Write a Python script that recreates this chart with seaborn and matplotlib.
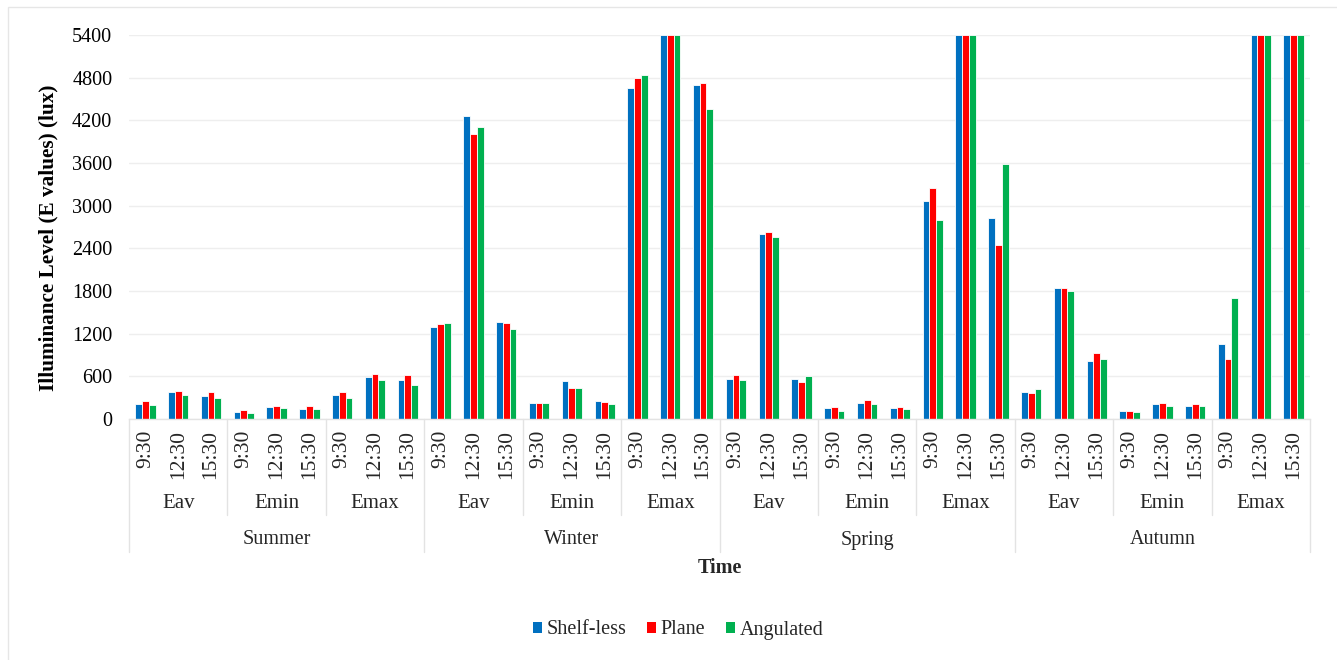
import numpy as np
import pandas as pd
import matplotlib
matplotlib.use("Agg")
import matplotlib.pyplot as plt
import matplotlib.transforms as mtransforms
from matplotlib.patches import Rectangle, Patch
import seaborn as sns

seasons = ["Summer", "Winter", "Spring", "Autumn"]
metrics = ["Eav", "Emin", "Emax"]
times = ["9:30", "12:30", "15:30"]
series = ["Shelf-less", "Plane", "Angulated"]
colors = ["#0070C0", "#FF0000", "#00B050"]

shelf_less = [216, 375, 328, 103, 169, 141, 337, 590, 553,
              1294, 4265, 1364, 230, 534, 253, 4650, 5400, 4690,
              559, 2596, 559, 152, 218, 156, 3070, 5400, 2828,
              384, 1847, 820, 109, 204, 189, 1061, 5400, 5400]
plane = [248, 389, 380, 122, 178, 187, 375, 633, 614,
         1331, 4007, 1354, 230, 441, 239, 4790, 5400, 4730,
         625, 2624, 521, 166, 270, 166, 3254, 5400, 2444,
         369, 1847, 933, 118, 227, 204, 838, 5400, 5400]
angulated = [192, 337, 300, 89, 155, 145, 300, 544, 483,
             1354, 4110, 1261, 230, 441, 206, 4840, 5400, 4359,
             549, 2563, 611, 118, 208, 147, 2795, 5400, 3581,
             426, 1800, 843, 99, 180, 180, 1705, 5400, 5400]

yticks = [0, 600, 1200, 1800, 2400, 3000, 3600, 4200, 4800, 5400]

# build long table
keys = []
for s in seasons:
    for m in metrics:
        for t in times:
            keys.append(f"{s}|{m}|{t}")
rows = []
for name, vals in zip(series, [shelf_less, plane, angulated]):
    for k, v in zip(keys, vals):
        rows.append({"key": k, "series": name, "value": v})
df = pd.DataFrame(rows)

sns.set_theme(style="white")
plt.rcParams["font.family"] = ["Liberation Serif", "DejaVu Serif"]

W, H = 1337, 660
fig = plt.figure(figsize=(W / 100, H / 100), dpi=100)
ax = fig.add_axes([129 / W, 1 - 419 / H, (1310 - 129) / W, (419 - 35) / H])

sns.barplot(data=df, x="key", y="value", hue="series", order=keys,
            hue_order=series, palette=colors, width=0.62, ax=ax,
            edgecolor="white", linewidth=0.6, saturation=1, legend=False)

ax.set_ylim(0, 5400)
ax.set_xlim(-0.5, len(keys) - 0.5)
ax.set_yticks(yticks)
ax.set_yticklabels([str(v) for v in yticks], fontsize=14.5, color="black")
ax.tick_params(axis="y", length=0, pad=12)
ax.set_xticks([])
ax.set_xlabel("")
ax.set_ylabel("")
fig.text(48 / W, 1 - 238 / H, "Illuminance Level (E values) (lux)",
         rotation=90, ha="center", va="center", fontsize=15.3,
         fontweight="bold", color="black")
ax.yaxis.grid(True, color="#EEEEEE", linewidth=1)
ax.set_axisbelow(True)
for sp in ["top", "right", "left"]:
    ax.spines[sp].set_visible(False)
ax.spines["bottom"].set_color("#E3E3E3")
ax.spines["bottom"].set_linewidth(1)

trans = mtransforms.blended_transform_factory(ax.transData, fig.transFigure)
y_axis = 1 - 419 / H
y_metric_bot = 1 - 515 / H
y_season_bot = 1 - 552 / H

# separators
for i in range(len(seasons) * len(metrics) + 1):
    xb = i * 3 - 0.5
    ybot = y_season_bot if i % 3 == 0 else y_metric_bot
    ax.plot([xb, xb], [y_axis, ybot], color="#E3E3E3", lw=1,
            transform=trans, clip_on=False)

# labels
for idx, k in enumerate(keys):
    s, m, t = k.split("|")
    ax.text(idx, 1 - 430 / H, t, rotation=90, ha="center", va="top",
            fontsize=15.5, transform=trans)
for j in range(len(seasons) * len(metrics)):
    ax.text(j * 3 + 1, 1 - 504 / H, metrics[j % 3], ha="center",
            va="center", fontsize=15, transform=trans)
for j, s in enumerate(seasons):
    ax.text(j * 9 + 4, 1 - 540 / H, s, ha="center", va="center",
            fontsize=14.5, transform=trans)

fig.text(ax.get_position().x0 + ax.get_position().width / 2, 1 - 568 / H,
         "Time", ha="center", va="center", fontsize=14.5, fontweight="bold")

handles = [Patch(facecolor=c, edgecolor="none", label=n)
           for c, n in zip(colors, series)]
fig.legend(handles=handles, loc="center", bbox_to_anchor=(678 / W, 1 - 630 / H),
           ncol=3, frameon=False, fontsize=14.5, handlelength=0.45,
           handleheight=0.45, handletextpad=0.25, columnspacing=1.0)

# outer light frame
fig.patches.append(Rectangle((8 / W, -0.02), 1.1, 1 - 7 / H + 0.02,
                             transform=fig.transFigure, fill=False,
                             edgecolor="#E6E6E6", lw=1))

fig.savefig("out.png", dpi=100)
